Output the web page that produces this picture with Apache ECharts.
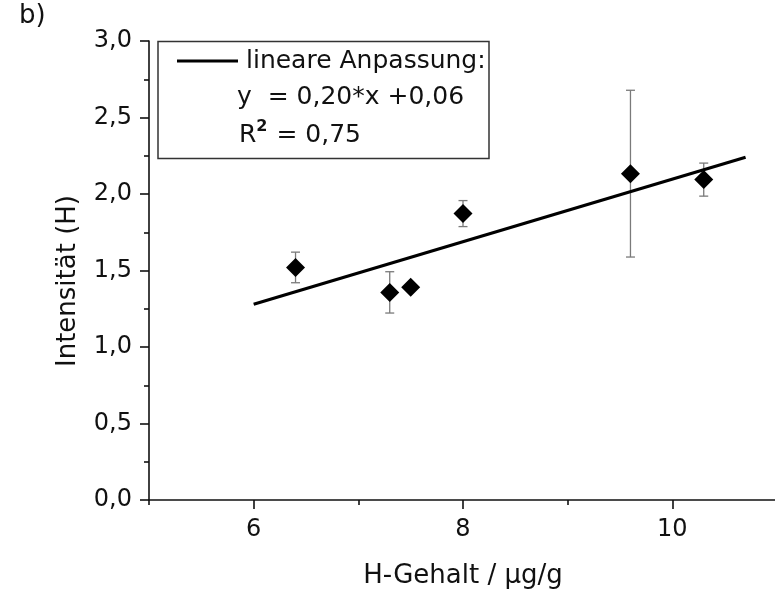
<!DOCTYPE html>
<html>
<head>
<meta charset="utf-8">
<script src="https://cdn.jsdelivr.net/npm/echarts@6/dist/echarts.min.js"></script>
<style>
html,body{margin:0;padding:0;background:#fff;}
#chart{width:775px;height:593px;}
</style>
</head>
<body>
<div id="chart"></div>
<script>
// Data
var xValues = [6.4, 7.3, 7.5, 8.0, 9.6, 10.3];
var yValues = [1.52, 1.357, 1.39, 1.872, 2.133, 2.094];
var yErrors = [0.10, 0.135, 0.0, 0.085, 0.545, 0.108];
var fitX = [6.0, 10.7];
var fitY = [1.28, 2.24];
var xMajorTicks = [6, 8, 10];
var xMinorTicks = [5, 7, 9, 11];
var xTitle = 'H-Gehalt / µg/g';
var yTitle = 'Intensität (H)';
var panelLabel = 'b)';
var legendLine1 = 'lineare Anpassung:';
var legendLine2 = 'y  = 0,20*x +0,06';
var legendLine3 = 'R{sup|2} = 0,75';

var points = xValues.map(function (x, i) { return [x, yValues[i]]; });
var errData = xValues.map(function (x, i) { return [x, yValues[i] - yErrors[i], yValues[i] + yErrors[i]]; })
  .filter(function (d, i) { return yErrors[i] > 0; });
var fitData = fitX.map(function (x, i) { return [x, fitY[i]]; });

var FONT = 'DejaVu Sans';
var chart = echarts.init(document.getElementById('chart'), null, {renderer: 'canvas'});

function fmtComma(v) { return v.toFixed(1).replace('.', ','); }

var option = {
  animation: false,
  backgroundColor: '#ffffff',
  grid: {left: 149, top: 41, right: -2, bottom: 93, containLabel: false, outerBoundsMode: 'none'},
  xAxis: [{
    type: 'value', min: 5, max: 11, interval: 1,
    axisLine: {lineStyle: {color: '#111', width: 1.6}},
    axisTick: {show: true, length: 9, lineStyle: {color: '#111', width: 1.6}, customValues: xMajorTicks},
    axisLabel: {customValues: xMajorTicks, margin: 18, fontFamily: FONT, fontSize: 24, color: '#111',
      formatter: function (v) { return String(v); }},
    splitLine: {show: false},
    name: xTitle, nameLocation: 'middle', nameGap: 63,
    nameTextStyle: {fontFamily: FONT, fontSize: 26, color: '#111'}
  }, {
    type: 'value', min: 5, max: 11, interval: 1, position: 'bottom',
    axisLine: {show: false},
    axisTick: {show: true, length: 5, lineStyle: {color: '#111', width: 1.6}, customValues: xMinorTicks},
    axisLabel: {show: false},
    splitLine: {show: false}
  }],
  yAxis: {
    type: 'value', min: 0, max: 3, interval: 0.5,
    axisLine: {show: true, lineStyle: {color: '#111', width: 1.6}},
    axisTick: {show: true, length: 9, lineStyle: {color: '#111', width: 1.6}},
    minorTick: {show: true, splitNumber: 2, length: 5, lineStyle: {color: '#111', width: 1.6}},
    axisLabel: {margin: 17, fontFamily: FONT, fontSize: 24, color: '#111', formatter: fmtComma},
    splitLine: {show: false}
  },
  graphic: [
    {type: 'text', left: 19, top: 3, style: {text: panelLabel, font: '26px "DejaVu Sans"', fill: '#111'}},
    {type: 'text', x: 68, y: 281, rotation: Math.PI / 2,
      style: {text: yTitle, font: '26px "DejaVu Sans"', fill: '#111', align: 'center', verticalAlign: 'middle'}},
    {type: 'rect', shape: {x: 158, y: 41.5, width: 331, height: 117},
      style: {fill: '#fff', stroke: '#333', lineWidth: 1.5}, z: 10},
    {type: 'line', shape: {x1: 177, y1: 61, x2: 238, y2: 61},
      style: {stroke: '#000', lineWidth: 3}, z: 11},
    {type: 'text', x: 246, y: 61, z: 11,
      style: {text: legendLine1, font: '25px "DejaVu Sans"', fill: '#111', verticalAlign: 'middle'}},
    {type: 'text', x: 237, y: 97, z: 11,
      style: {text: legendLine2, font: '25px "DejaVu Sans"', fill: '#111', verticalAlign: 'middle'}},
    {type: 'text', x: 239, y: 135, z: 11,
      style: {text: legendLine3, font: '25px "DejaVu Sans"', fill: '#111', verticalAlign: 'middle',
        rich: {sup: {font: 'bold 16px "DejaVu Sans"', fill: '#111', verticalAlign: 'top', padding: [0, 1, 16, 0]}}}}
  ],
  series: [
    {
      type: 'custom', name: 'err', xAxisIndex: 0, data: errData, z: 2,
      encode: {x: 0, y: [1, 2]},
      renderItem: function (params, api) {
        var x = api.value(0);
        var top = api.coord([x, api.value(2)]);
        var bot = api.coord([x, api.value(1)]);
        var c = 4.5;
        var st = {stroke: '#7a7a7a', lineWidth: 1.3};
        return {type: 'group', children: [
          {type: 'line', shape: {x1: top[0], y1: top[1], x2: bot[0], y2: bot[1]}, style: st},
          {type: 'line', shape: {x1: top[0] - c, y1: top[1], x2: top[0] + c, y2: top[1]}, style: st},
          {type: 'line', shape: {x1: bot[0] - c, y1: bot[1], x2: bot[0] + c, y2: bot[1]}, style: st}
        ]};
      }
    },
    {
      type: 'line', name: 'lineare Anpassung', data: fitData, xAxisIndex: 0,
      showSymbol: false, symbol: 'none', z: 3,
      lineStyle: {color: '#000', width: 3.2}
    },
    {
      type: 'scatter', name: 'Daten', data: points, xAxisIndex: 0,
      symbol: 'diamond', symbolSize: [19, 19], z: 4,
      itemStyle: {color: '#000', opacity: 1}
    }
  ]
};
chart.setOption(option);
</script>
</body>
</html>
